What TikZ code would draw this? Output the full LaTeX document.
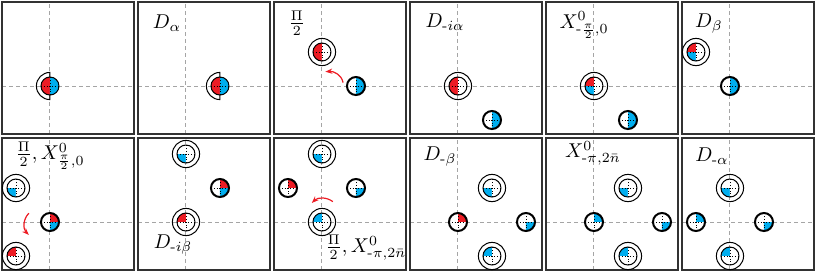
\documentclass[tikz,border=0pt]{standalone}
\usepackage{amsmath}
\usetikzlibrary{arrows.meta,calc}
\definecolor{ruby}{RGB}{237,28,36}
\definecolor{sky}{RGB}{0,174,239}
\definecolor{ink}{RGB}{50,50,50}
\definecolor{fog}{RGB}{165,165,165}
\newcommand{\discr}{0.265}
\newcommand{\ringr}{0.4}
\tikzset{
  >={Stealth[length=3.5pt]},
  pane/.style={draw=ink,line width=1pt},
  guide/.style={draw=fog,line width=0.5pt,dash pattern=on 2pt off 1.5pt},
  tag/.style={inner sep=1pt},
  flow/.style={->,draw=#1,line width=0.6pt},
  flow/.default=ruby,
  % quartered discs, colours counter-clockwise from upper right
  pics/quads/.style n args={4}{code={
    \fill[#1] (0,0) -- (\discr,0) arc (0:90:\discr) -- cycle;
    \fill[#2] (0,0) -- (0,\discr) arc (90:180:\discr) -- cycle;
    \fill[#3] (0,0) -- (-\discr,0) arc (180:270:\discr) -- cycle;
    \fill[#4] (0,0) -- (0,-\discr) arc (270:360:\discr) -- cycle;
    \draw[densely dotted,line width=0.4pt] (-\discr,0) -- (\discr,0) (0,-\discr) -- (0,\discr);
  }},
  pics/single/.style n args={4}{code={
    \pic {quads={#1}{#2}{#3}{#4}};
    \draw[line width=1pt] (0,0) circle (\discr);
  }},
  pics/double/.style n args={4}{code={
    \pic {quads={#1}{#2}{#3}{#4}};
    \draw[line width=0.5pt] (0,0) circle (\discr) (0,0) circle (\ringr);
  }},
  pics/half/.style={code={
    \pic {quads={sky}{ruby}{ruby}{sky}};
    \draw[line width=0.5pt] (0,0) circle (\discr);
    \draw[line width=0.5pt] (0,\discr) -- (0,\ringr) arc (90:270:\ringr) -- (0,-\discr);
  }},
}
\begin{document}
\begin{tikzpicture}[x=17pt,y=17pt]
  \useasboundingbox (0,0) rectangle (24.03,8.03);
  % panels
  \foreach \r/\y in {0/5.5,1/1.5}
    \foreach \c in {0,...,5}{
      \begin{scope}[shift={(1.47+4*\c,\y)}]
        \coordinate (o\c\r) at (0,0);
        \draw[guide] (-1.41,0) -- (2.47,0) (0,-1.41) -- (0,2.47);
        \draw[pane] (-1.41,-1.41) rectangle (2.47,2.47);
      \end{scope}
    }
  % top row
  \pic at (o00) {half};
  \pic at ($(o10)+(1,0)$) {half};
  \node[tag] (t2) at ($(o10)+(-0.56,1.85)$) {$D_\alpha$};
  \pic at ($(o20)+(0,1)$) {double={white}{ruby}{ruby}{white}};
  \pic at ($(o20)+(1,0)$) {single={sky}{white}{white}{sky}};
  \node[tag] (t3) at ($(o20)+(-0.74,1.85)$) {$\frac{\Pi}{2}$};
  \coordinate (s3) at ($(o20)+(0.62,0.1)$);
  \coordinate (e3) at ($(o20)+(0.1,0.42)$);
  \draw[flow] (s3) to[out=100,in=5] (e3);
  \pic at (o30) {double={white}{ruby}{ruby}{white}};
  \pic at ($(o30)+(1,-1)$) {single={sky}{white}{white}{sky}};
  \node[tag] (t4) at ($(o30)+(-0.38,1.88)$) {$D_{\text{-}i\alpha}$};
  \pic at (o40) {double={white}{ruby}{sky}{white}};
  \pic at ($(o40)+(1,-1)$) {single={sky}{white}{white}{sky}};
  \node[tag] (t5) at ($(o40)+(-0.29,1.79)$) {$X^0_{\text{-}\frac{\pi}{2},0}$};
  \pic at ($(o50)+(-1,1)$) {double={white}{ruby}{sky}{white}};
  \pic at (o50) {single={sky}{white}{white}{sky}};
  \node[tag] (t6) at ($(o50)+(-0.62,1.85)$) {$D_\beta$};
  % bottom row
  \pic at ($(o01)+(-1,1)$) {double={white}{white}{sky}{white}};
  \pic at (o01) {single={ruby}{white}{white}{sky}};
  \pic at ($(o01)+(-1,-1)$) {double={white}{ruby}{white}{white}};
  \node[tag] (t7) at ($(o01)+(0,1.94)$) {$\frac{\Pi}{2},X^0_{\frac{\pi}{2},0}$};
  \coordinate (s7) at ($(o01)+(-0.62,0.26)$);
  \coordinate (e7) at ($(o01)+(-0.62,-0.38)$);
  \draw[flow] (s7) to[bend right=45] (e7);
  \pic at ($(o11)+(0,2)$) {double={white}{white}{sky}{white}};
  \pic at ($(o11)+(1,1)$) {single={ruby}{white}{white}{sky}};
  \pic at (o11) {double={white}{ruby}{white}{white}};
  \node[tag] (t8) at ($(o11)+(-0.38,-0.65)$) {$D_{\text{-}i\beta}$};
  \pic at ($(o21)+(0,2)$) {double={white}{white}{sky}{white}};
  \pic at ($(o21)+(-1,1)$) {single={ruby}{white}{white}{white}};
  \pic at ($(o21)+(1,1)$) {single={white}{white}{white}{sky}};
  \pic at (o21) {double={white}{sky}{white}{white}};
  \node[tag] (t9) at ($(o21)+(1.29,-0.76)$) {$\frac{\Pi}{2},X^0_{\text{-}\pi,2\bar{n}}$};
  \coordinate (s9) at ($(o21)+(0.32,0.6)$);
  \coordinate (e9) at ($(o21)+(-0.3,0.56)$);
  \draw[flow] (s9) to[bend right=40] (e9);
  \pic at ($(o31)+(1,1)$) {double={white}{white}{sky}{white}};
  \pic at (o31) {single={ruby}{white}{white}{white}};
  \pic at ($(o31)+(2,0)$) {single={white}{white}{white}{sky}};
  \pic at ($(o31)+(1,-1)$) {double={white}{sky}{white}{white}};
  \node[tag] (t10) at ($(o31)+(-0.53,1.94)$) {$D_{\text{-}\beta}$};
  \pic at ($(o41)+(1,1)$) {double={white}{white}{sky}{white}};
  \pic at (o41) {single={sky}{white}{white}{white}};
  \pic at ($(o41)+(2,0)$) {single={white}{white}{white}{sky}};
  \pic at ($(o41)+(1,-1)$) {double={white}{sky}{white}{white}};
  \node[tag] (t11) at ($(o41)+(-0.03,2.03)$) {$X^0_{\text{-}\pi,2\bar{n}}$};
  \pic at ($(o51)+(0,1)$) {double={white}{white}{sky}{white}};
  \pic at ($(o51)+(-1,0)$) {single={sky}{white}{white}{white}};
  \pic at ($(o51)+(1,0)$) {single={white}{white}{white}{sky}};
  \pic at ($(o51)+(0,-1)$) {double={white}{sky}{white}{white}};
  \node[tag] (t12) at ($(o51)+(-0.53,1.94)$) {$D_{\text{-}\alpha}$};
\end{tikzpicture}
\end{document}
